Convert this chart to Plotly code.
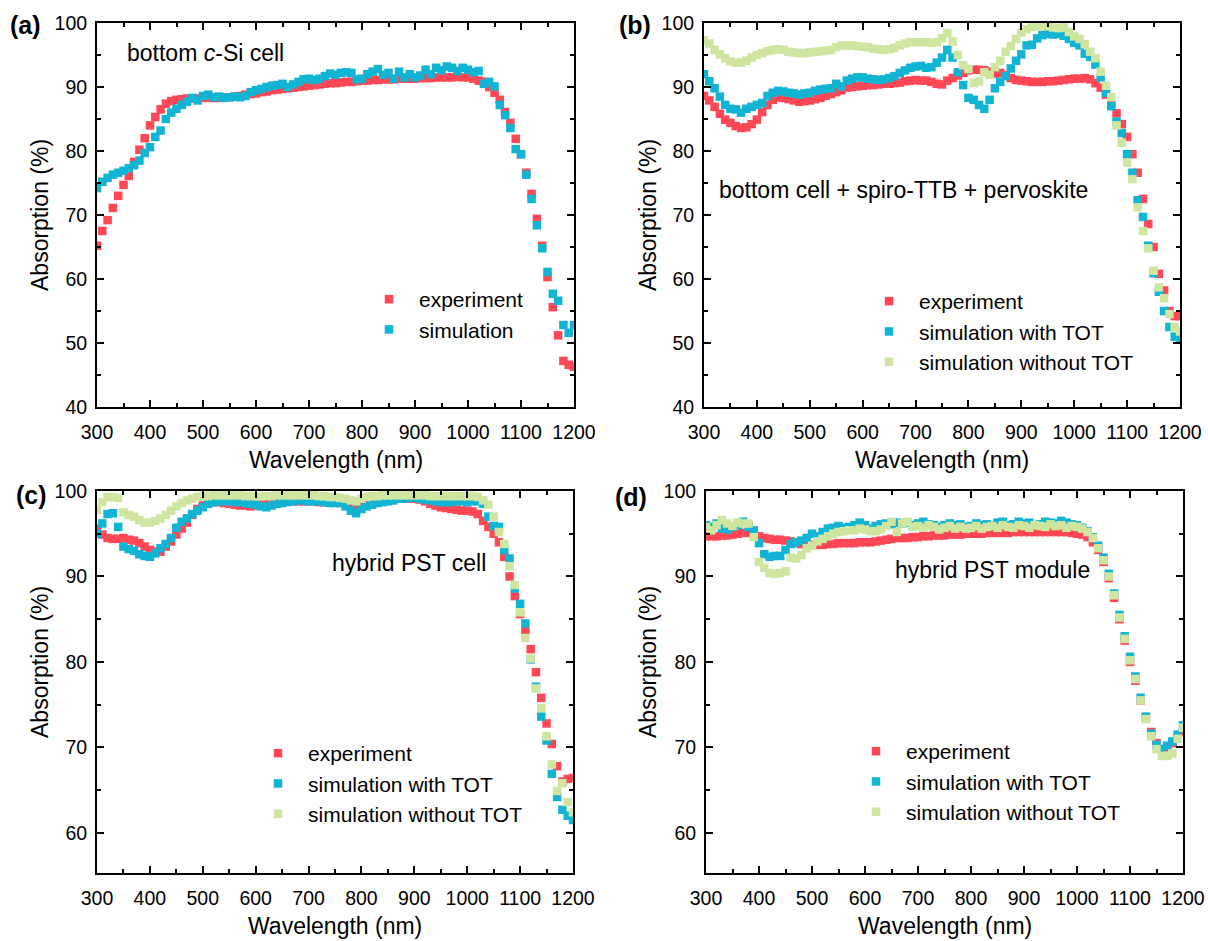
import plotly.graph_objects as go

wavelength = list(range(300, 1201, 10))

# (a) bottom c-Si cell
a_experiment = [65.2, 67.5, 69.2, 71.1, 73.0, 74.7, 76.1, 78.3, 80.2, 82.0,
                84.0, 85.3, 86.5, 87.4, 87.8, 88.0, 88.1, 88.2, 88.2, 88.2,
                88.3, 88.3, 88.3, 88.3, 88.4, 88.4, 88.5, 88.6, 88.8, 88.9,
                89.0, 89.2, 89.3, 89.5, 89.6, 89.7, 89.8, 89.9, 90.0, 90.1,
                90.2, 90.3, 90.4, 90.5, 90.6, 90.6, 90.7, 90.8, 90.8, 90.9,
                91.0, 91.0, 91.1, 91.1, 91.2, 91.2, 91.2, 91.3, 91.3, 91.3,
                91.3, 91.4, 91.4, 91.4, 91.5, 91.5, 91.5, 91.5, 91.6, 91.5,
                91.5, 91.3, 91.0, 90.8, 90.0, 89.1, 88.0, 86.1, 84.4, 81.9,
                79.5, 76.6, 73.3, 69.4, 65.2, 60.3, 55.6, 51.2, 47.2, 46.6,
                46.3]
a_simulation = [74.2, 75.2, 75.8, 76.3, 76.6, 76.9, 77.3, 77.8, 78.5, 79.7,
                80.6, 82.2, 83.2, 85.0, 86.0, 86.6, 87.2, 87.7, 88.3, 87.9,
                88.6, 88.8, 88.4, 88.5, 88.3, 88.4, 88.5, 88.4, 88.6, 89.2,
                89.5, 89.7, 90.0, 90.2, 90.3, 90.5, 90.0, 90.4, 90.8, 91.2,
                91.3, 91.1, 91.3, 91.7, 92.1, 91.9, 92.2, 92.3, 92.2, 91.2,
                91.3, 92.0, 92.4, 92.8, 91.9, 92.2, 91.3, 92.4, 91.5, 92.0,
                91.5, 91.8, 92.7, 92.0, 93.0, 92.6, 93.2, 93.0, 92.5, 93.0,
                92.7, 92.3, 92.5, 90.5, 90.8, 90.1, 87.2, 85.6, 83.6, 80.3,
                79.5, 76.3, 72.5, 68.4, 64.8, 61.1, 57.7, 56.6, 52.8, 51.6,
                52.8]

# (b) bottom cell + spiro-TTB + perovskite
b_experiment = [88.6, 87.9, 86.9, 85.8, 84.9, 84.4, 83.9, 83.6, 83.7, 84.2,
                84.9, 86.1, 87.2, 88.0, 88.4, 88.3, 88.1, 87.9, 87.7, 87.8,
                87.9, 88.1, 88.3, 88.6, 88.9, 89.2, 89.5, 89.9, 90.0, 90.1,
                90.2, 90.3, 90.3, 90.4, 90.5, 90.5, 90.6, 90.7, 90.9, 91.0,
                91.1, 91.0, 91.0, 90.8, 90.5, 90.4, 91.0, 91.4, 91.8, 92.2,
                92.6, 92.7, 92.7, 92.6, 92.4, 92.1, 92.2, 91.9, 91.4, 91.1,
                91.0, 90.9, 90.8, 90.8, 90.8, 90.9, 90.9, 91.0, 91.1, 91.2,
                91.3, 91.3, 91.4, 91.2, 90.6, 89.9, 88.8, 87.3, 85.9, 84.2,
                82.2, 79.5, 76.6, 72.5, 68.6, 65.0, 60.8, 58.2, 55.0, 54.2,
                54.2]
b_sim_tot = [92.0, 90.9, 89.8, 88.5, 87.2, 86.6, 86.5, 86.0, 86.6, 86.9,
             87.2, 87.5, 88.6, 89.1, 89.4, 89.3, 89.1, 89.0, 88.8, 89.0,
             89.1, 89.4, 89.6, 89.7, 89.8, 90.5, 90.1, 91.0, 91.3, 91.5,
             91.5, 91.3, 91.2, 91.1, 91.2, 91.4, 91.7, 92.2, 92.6, 93.0,
             93.2, 93.3, 93.0, 93.1, 93.8, 94.6, 95.8, 94.6, 92.3, 90.3,
             88.3, 88.0, 87.2, 86.6, 88.0, 89.8, 90.8, 91.7, 92.9, 94.1,
             95.1, 96.5, 96.6, 97.6, 98.1, 98.3, 98.2, 98.3, 98.0, 97.5,
             96.9, 96.5, 95.2, 94.7, 93.5, 91.5, 89.1, 87.0, 84.6, 82.8,
             79.5, 76.6, 72.3, 69.7, 65.2, 60.9, 58.0, 55.0, 52.5, 51.0,
             50.6]
b_sim_no_tot = [97.3, 96.8, 95.8, 95.1, 94.5, 94.0, 93.8, 93.8, 94.1, 94.6,
                95.0, 95.3, 95.6, 95.8, 95.9, 95.8, 95.5, 95.4, 95.3, 95.3,
                95.4, 95.5, 95.6, 95.7, 95.8, 96.2, 96.5, 96.5, 96.5, 96.4,
                96.3, 96.2, 96.0, 95.9, 95.8, 95.9, 96.1, 96.5, 96.8, 97.0,
                97.0, 97.0, 97.0, 96.9, 97.0, 97.6, 98.4, 97.1, 95.0, 93.4,
                92.8, 90.6, 90.9, 92.3, 91.9, 93.1, 94.1, 95.5, 96.4, 97.5,
                98.5, 99.0, 99.4, 99.5, 99.5, 99.5, 99.3, 99.2, 99.4, 98.6,
                97.9, 97.5, 96.7, 95.5, 94.5, 92.4, 90.2, 88.4, 84.0, 81.3,
                78.2, 75.6, 71.2, 67.5, 64.8, 61.3, 58.7, 57.0, 54.5, 52.5,
                51.8]

# (c) hybrid PST cell
c_experiment = [95.6, 94.9, 94.5, 94.4, 94.4, 94.5, 94.3, 94.2, 93.9, 93.5,
                93.1, 92.9, 92.9, 93.5, 94.1, 94.9, 95.6, 96.3, 97.2, 97.9,
                98.3, 98.6, 98.7, 98.7, 98.6, 98.5, 98.4, 98.3, 98.3, 98.2,
                98.3, 98.4, 98.5, 98.6, 98.7, 98.7, 98.8, 98.8, 98.8, 98.8,
                98.8, 98.8, 98.7, 98.7, 98.7, 98.7, 98.6, 98.6, 98.5, 98.4,
                98.5, 98.6, 98.6, 98.7, 98.8, 99.0, 99.1, 99.2, 99.2, 99.1,
                99.1, 99.0, 98.8, 98.5, 98.3, 98.1, 98.0, 97.9, 97.8, 97.7,
                97.7, 97.6, 97.3, 96.5, 95.8, 95.0, 94.0, 92.3, 90.0, 87.7,
                85.6, 83.6, 81.5, 78.8, 75.8, 72.8, 70.4, 67.8, 66.0, 66.3,
                66.4]
c_sim_tot = [95.0, 96.2, 97.3, 97.4, 95.8, 93.5, 93.2, 93.0, 92.6, 92.4,
             92.3, 92.7, 93.3, 93.8, 94.5, 95.7, 96.4, 96.8, 97.3, 97.7,
             98.1, 98.5, 98.7, 98.8, 98.8, 98.8, 98.7, 98.7, 98.6, 98.5,
             98.4, 98.2, 98.1, 98.3, 98.5, 98.6, 98.7, 98.8, 98.9, 98.9,
             98.8, 98.8, 98.8, 98.7, 98.6, 98.6, 98.6, 98.2, 97.7, 97.4,
             97.9, 98.2, 98.4, 98.6, 98.7, 98.8, 98.9, 99.1, 99.1, 99.2,
             99.2, 99.1, 99.0, 98.9, 98.8, 98.7, 98.7, 98.7, 98.8, 98.8,
             98.7, 98.8, 98.8, 98.5, 97.0, 95.9, 95.8, 93.1, 92.1, 88.6,
             86.8, 84.5, 80.3, 77.1, 73.6, 70.8, 66.9, 64.2, 62.7, 62.0,
             61.5]
c_sim_no_tot = [97.8, 98.7, 99.3, 99.3, 99.2, 97.5, 97.2, 97.0, 96.6, 96.3,
                96.3, 96.5, 96.8, 97.2, 97.7, 98.2, 98.6, 98.9, 99.1, 99.3,
                99.4, 99.4, 99.5, 99.5, 99.5, 99.5, 99.5, 99.5, 99.4, 99.4,
                99.4, 99.4, 99.4, 99.4, 99.5, 99.5, 99.5, 99.5, 99.5, 99.5,
                99.5, 99.5, 99.4, 99.4, 99.3, 99.3, 99.2, 99.1, 98.9, 98.8,
                99.1, 99.3, 99.4, 99.4, 99.5, 99.5, 99.5, 99.5, 99.5, 99.5,
                99.5, 99.5, 99.5, 99.4, 99.4, 99.4, 99.4, 99.4, 99.4, 99.4,
                99.4, 99.4, 99.3, 98.9, 98.4, 97.0, 95.2, 93.8, 91.2, 89.0,
                85.8, 82.8, 80.4, 76.9, 74.6, 71.3, 68.0, 64.9, 65.8, 63.6,
                62.4]

# (d) hybrid PST module
d_experiment = [94.7, 94.7, 94.7, 94.8, 94.8, 94.9, 95.0, 95.1, 95.1, 95.0,
                94.7, 94.5, 94.4, 94.3, 94.3, 94.2, 94.1, 93.9, 93.8, 93.7,
                93.7, 93.7, 93.7, 93.8, 93.8, 93.9, 93.9, 93.9, 93.9, 94.0,
                94.0, 94.0, 94.1, 94.2, 94.3, 94.4, 94.5, 94.5, 94.5, 94.6,
                94.6, 94.7, 94.7, 94.8, 94.8, 94.8, 94.9, 94.9, 94.9, 95.0,
                95.0, 95.0, 95.0, 95.1, 95.1, 95.1, 95.1, 95.1, 95.2, 95.2,
                95.2, 95.2, 95.2, 95.2, 95.2, 95.2, 95.2, 95.2, 95.2, 95.1,
                95.0, 94.9, 94.6, 94.0, 93.1, 91.7, 89.8, 87.5, 85.0, 82.5,
                80.0, 77.8, 75.5, 73.5, 71.8, 70.5, 69.8, 70.0, 70.5, 71.2,
                71.8]
d_sim_tot = [96.0, 95.8, 96.2, 95.6, 95.5, 95.8, 96.0, 96.4, 95.8, 95.4,
             93.9, 92.6, 92.3, 92.4, 92.4, 93.1, 93.8, 94.0, 94.2, 94.5,
             95.0, 94.7, 95.2, 95.6, 95.7, 95.9, 95.7, 95.8, 96.0, 96.3,
             96.0, 95.6, 95.9, 96.1, 96.2, 96.1, 96.3, 96.2, 96.3, 96.0,
             96.2, 96.4, 96.1, 96.0, 95.8, 96.0, 96.2, 96.0, 96.1, 95.8,
             95.9, 96.2, 96.0, 96.1, 95.9, 96.3, 96.4, 96.0, 96.1, 96.4,
             96.2, 96.3, 96.0, 96.1, 96.4, 96.3, 96.2, 96.5, 96.3, 96.1,
             96.0, 95.7, 95.3, 94.6, 93.6, 92.2, 90.3, 88.0, 85.5, 83.0,
             80.6, 78.3, 75.8, 73.6, 71.6, 70.3, 69.8, 70.2, 70.7, 71.5,
             72.6]
d_sim_no_tot = [95.8, 95.4, 96.0, 96.6, 96.2, 95.9, 96.3, 96.2, 96.2, 94.6,
                91.7, 91.0, 90.4, 90.3, 90.4, 90.6, 92.2, 92.1, 92.5, 93.3,
                93.6, 94.1, 94.4, 94.7, 95.0, 95.2, 95.3, 95.4, 95.4, 95.6,
                95.5, 95.3, 95.3, 95.5, 95.9, 96.4, 95.2, 96.2, 96.4, 95.8,
                95.9, 95.7, 96.0, 95.8, 95.5, 95.7, 95.9, 95.6, 95.8, 95.6,
                95.7, 95.9, 95.6, 95.8, 95.9, 95.7, 96.0, 95.8, 95.7, 96.0,
                95.9, 95.7, 96.0, 95.9, 95.8, 96.1, 95.9, 96.0, 95.7, 95.9,
                95.8, 95.6, 95.2, 94.5, 93.3, 91.9, 90.0, 87.8, 85.2, 82.7,
                80.2, 78.0, 75.5, 73.3, 71.3, 69.8, 69.0, 69.0, 69.3, 71.0,
                72.3]

x_ticks = [300, 400, 500, 600, 700, 800, 900, 1000, 1100, 1200]
series_names = ["experiment", "simulation with TOT", "simulation without TOT"]
panel_labels = ["(a)", "(b)", "(c)", "(d)"]
panel_titles = ["bottom <i>c</i>-Si cell", "bottom cell + spiro-TTB + pervoskite",
                "hybrid PST cell", "hybrid PST module"]

RED = "#FF4755"
BLUE = "#12B4D4"
GREEN = "#CFE6A1"
FONT = "Arial, 'Liberation Sans', sans-serif"
W, H = 1208, 941

fig = go.Figure()

panels = [
    ("x", "y", "legend", [(a_experiment, "experiment", RED), (a_simulation, "simulation", BLUE)]),
    ("x2", "y2", "legend2", [(b_experiment, series_names[0], RED), (b_sim_tot, series_names[1], BLUE),
                             (b_sim_no_tot, series_names[2], GREEN)]),
    ("x3", "y3", "legend3", [(c_experiment, series_names[0], RED), (c_sim_tot, series_names[1], BLUE),
                             (c_sim_no_tot, series_names[2], GREEN)]),
    ("x4", "y4", "legend4", [(d_experiment, series_names[0], RED), (d_sim_tot, series_names[1], BLUE),
                             (d_sim_no_tot, series_names[2], GREEN)]),
]
for xa, ya, lg, series in panels:
    for vals, name, col in series:
        fig.add_trace(go.Scatter(
            x=wavelength, y=vals, mode="markers", name=name,
            marker=dict(symbol="square", size=8.5, color=col, line=dict(width=0)),
            xaxis=xa, yaxis=ya, legend=lg, cliponaxis=True))

def px_x(p):
    return p / W

def px_y(p):
    return 1 - p / H

# panel geometry in pixels (left, right, top, bottom)
geo = [(97, 574, 23, 407), (704, 1180, 23, 407), (97, 573, 491, 873), (706, 1183, 491, 873)]
yranges = [[40, 100], [40, 100], [55.3, 100], [55.3, 100]]

def xaxis_style(dom, anchor):
    return dict(domain=dom, anchor=anchor, range=[300, 1200], tickvals=x_ticks,
                showline=True, linecolor="black", linewidth=2, mirror="ticks",
                ticks="inside", ticklen=7, tickwidth=2, tickcolor="black",
                minor=dict(ticks="inside", dtick=50, tick0=300, ticklen=4, tickwidth=1.5, tickcolor="black"),
                showgrid=False, zeroline=False, automargin=False,
                tickfont=dict(family=FONT, size=19.5, color="black"), ticklabelstandoff=7)

def yaxis_style(dom, anchor, rng):
    return dict(domain=dom, anchor=anchor, range=rng, dtick=10, tick0=0,
                showline=True, linecolor="black", linewidth=2, mirror="ticks",
                ticks="inside", ticklen=7, tickwidth=2, tickcolor="black",
                minor=dict(ticks="inside", dtick=5, tick0=0, ticklen=4, tickwidth=1.5, tickcolor="black"),
                showgrid=False, zeroline=False, automargin=False,
                tickfont=dict(family=FONT, size=19.5, color="black"), ticklabelstandoff=4)

layout = dict(template="none", width=W, height=H, margin=dict(l=0, r=0, t=0, b=0, pad=0),
              autosize=False, paper_bgcolor="white", plot_bgcolor="white",
              font=dict(family=FONT, color="black"))
names = ["", "2", "3", "4"]
for i, (l, r, t, b) in enumerate(geo):
    xd = [px_x(l), px_x(r)]
    yd = [px_y(b), px_y(t)]
    layout["xaxis" + names[i]] = xaxis_style(xd, "y" + names[i])
    layout["yaxis" + names[i]] = yaxis_style(yd, "x" + names[i], yranges[i])

legend_pos = [(359, 279), (859, 281), (248, 733), (846, 731)]
for i, (lx, ly) in enumerate(legend_pos):
    layout["legend" + names[i]] = dict(
        x=px_x(lx), y=px_y(ly), xanchor="left", yanchor="top", xref="paper", yref="paper",
        bgcolor="rgba(0,0,0,0)", borderwidth=0, itemwidth=50,
        font=dict(family=FONT, size=21, color="black"), tracegroupgap=0)

fig.update_layout(**layout)

annotations = []
label_pos = [(8, 25), (617, 25), (14, 495), (613, 497)]
for lab, (lx, ly) in zip(panel_labels, label_pos):
    annotations.append(dict(text="<b>%s</b>" % lab, x=px_x(lx), y=px_y(ly), xref="paper", yref="paper",
                            xanchor="left", yanchor="middle", showarrow=False,
                            font=dict(family=FONT, size=25, color="black")))
title_pos = [(125, 53), (717, 190), (330, 563), (893, 570)]
for txt, (tx, ty) in zip(panel_titles, title_pos):
    annotations.append(dict(text=txt, x=px_x(tx), y=px_y(ty), xref="paper", yref="paper",
                            xanchor="left", yanchor="middle", showarrow=False,
                            font=dict(family=FONT, size=23, color="black")))
for i, (l, r, t, b) in enumerate(geo):
    annotations.append(dict(text="Wavelength (nm)", x=px_x((l + r) / 2), y=px_y(b + 53), xref="paper",
                            yref="paper", xanchor="center", yanchor="middle", showarrow=False,
                            font=dict(family=FONT, size=23, color="black")))
ytitle_pos = [(40, 215), (648, 215), (40, 662), (648, 662)]
for (tx, ty) in ytitle_pos:
    annotations.append(dict(text="Absorption (%)", x=px_x(tx), y=px_y(ty), xref="paper", yref="paper",
                            xanchor="center", yanchor="middle", showarrow=False, textangle=-90,
                            font=dict(family=FONT, size=23, color="black")))
fig.update_layout(annotations=annotations)

fig.write_html("out.html")
